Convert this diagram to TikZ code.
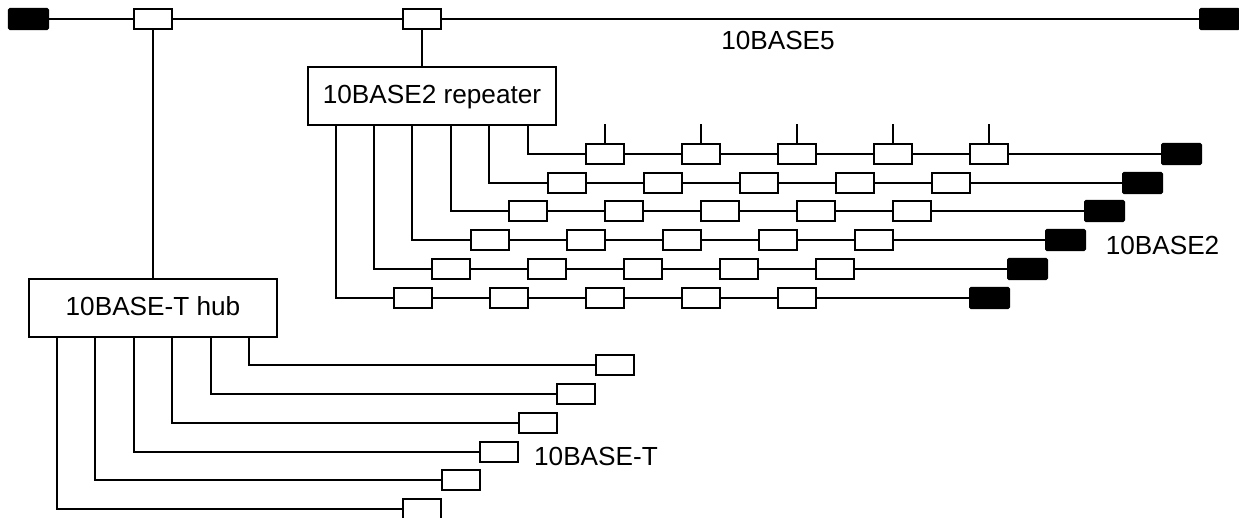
\documentclass[tikz,border=0pt]{standalone}
\usepackage{fontspec}
\setmainfont{Liberation Sans}
\tikzset{
    tap/.style={draw, fill=white, line width=1.15pt, outer sep=0pt, minimum width=0.76cm, minimum height=0.4cm, inner sep=0pt},
    term/.style={draw, fill=black, rounded corners=0.6pt, line width=1.15pt, outer sep=0pt, minimum width=0.78cm, minimum height=0.4cm, inner sep=0pt},
    devbox/.style={draw, fill=white, line width=1.15pt, outer sep=0pt, minimum width=4.96cm, minimum height=1.16cm, inner sep=0pt, text height=10.7pt, text depth=2pt},
    wire/.style={line width=1.15pt},
    seglabel/.style={anchor=base, inner sep=0pt}
}
\begin{document}
\begin{tikzpicture}[x=0.02cm, y=-0.02cm, font=\fontsize{14.9}{18}\selectfont]
    \clip (0,0) rectangle (1239,517);

    % thick coax
    \node[term] (endL) at (28.5,19) {};
    \node[term] (endR) at (1219.5,19) {};
    \node[tap] (tapHub) at (153,19) {};
    \node[tap] (tapRep) at (422,19) {};
    \draw[wire] (endL) -- (tapHub);
    \draw[wire] (tapHub) -- (tapRep);
    \draw[wire] (tapRep) -- (endR);
    \node[seglabel] (lab5) at (778,50) {10BASE5};

    \node[devbox] (rep) at (432,96) {10BASE2 repeater};
    \node[devbox] (hub) at (153,308) {10BASE-T hub};
    \draw[wire] (tapRep) -- (tapRep |- rep.north);
    \draw[wire] (tapHub) -- (hub);

    % thin coax rows
    \foreach \r/\legx/\rowy/\startx/\endx in {1/528/154/605/1181.5, 2/489/183/567/1142.5, 3/451/211/528/1104.5,
                                              4/412/240/490/1065.5, 5/374/269/451/1027.5, 6/336/298/413/989.5} {
        \coordinate (legR\r) at (\legx,125);
        \foreach \c [evaluate=\c as \tapx using \startx+(\c-1)*96] in {1,...,5} {
            \node[tap] (thin\r-\c) at (\tapx,\rowy) {};
        }
        \node[term] (thinEnd\r) at (\endx,\rowy) {};
        \draw[wire] (legR\r) |- (thin\r-1.west);
        \draw[wire] (thin\r-1) -- (thin\r-2);
        \draw[wire] (thin\r-2) -- (thin\r-3);
        \draw[wire] (thin\r-3) -- (thin\r-4);
        \draw[wire] (thin\r-4) -- (thin\r-5);
        \draw[wire] (thin\r-5) -- (thinEnd\r);
    }
    \foreach \c [evaluate=\c as \tapx using 605+(\c-1)*96] in {1,...,5} {
        \coordinate (stub\c) at (\tapx,124);
        \draw[wire] (stub\c) -- (thin1-\c);
    }
    \node[seglabel] (lab2) at (1162.5,254) {10BASE2};

    % twisted pair rows
    \foreach \r/\legx/\rowy/\tapx in {1/249/365/615, 2/211/394/576, 3/172/423/538,
                                      4/134/452/499, 5/95/480/461, 6/57/509/422} {
        \coordinate (legH\r) at (\legx,337);
        \node[tap] (port\r) at (\tapx,\rowy) {};
        \draw[wire] (legH\r) |- (port\r.west);
    }
    \node[seglabel] (labT) at (596,465) {10BASE-T};
\end{tikzpicture}
\end{document}
